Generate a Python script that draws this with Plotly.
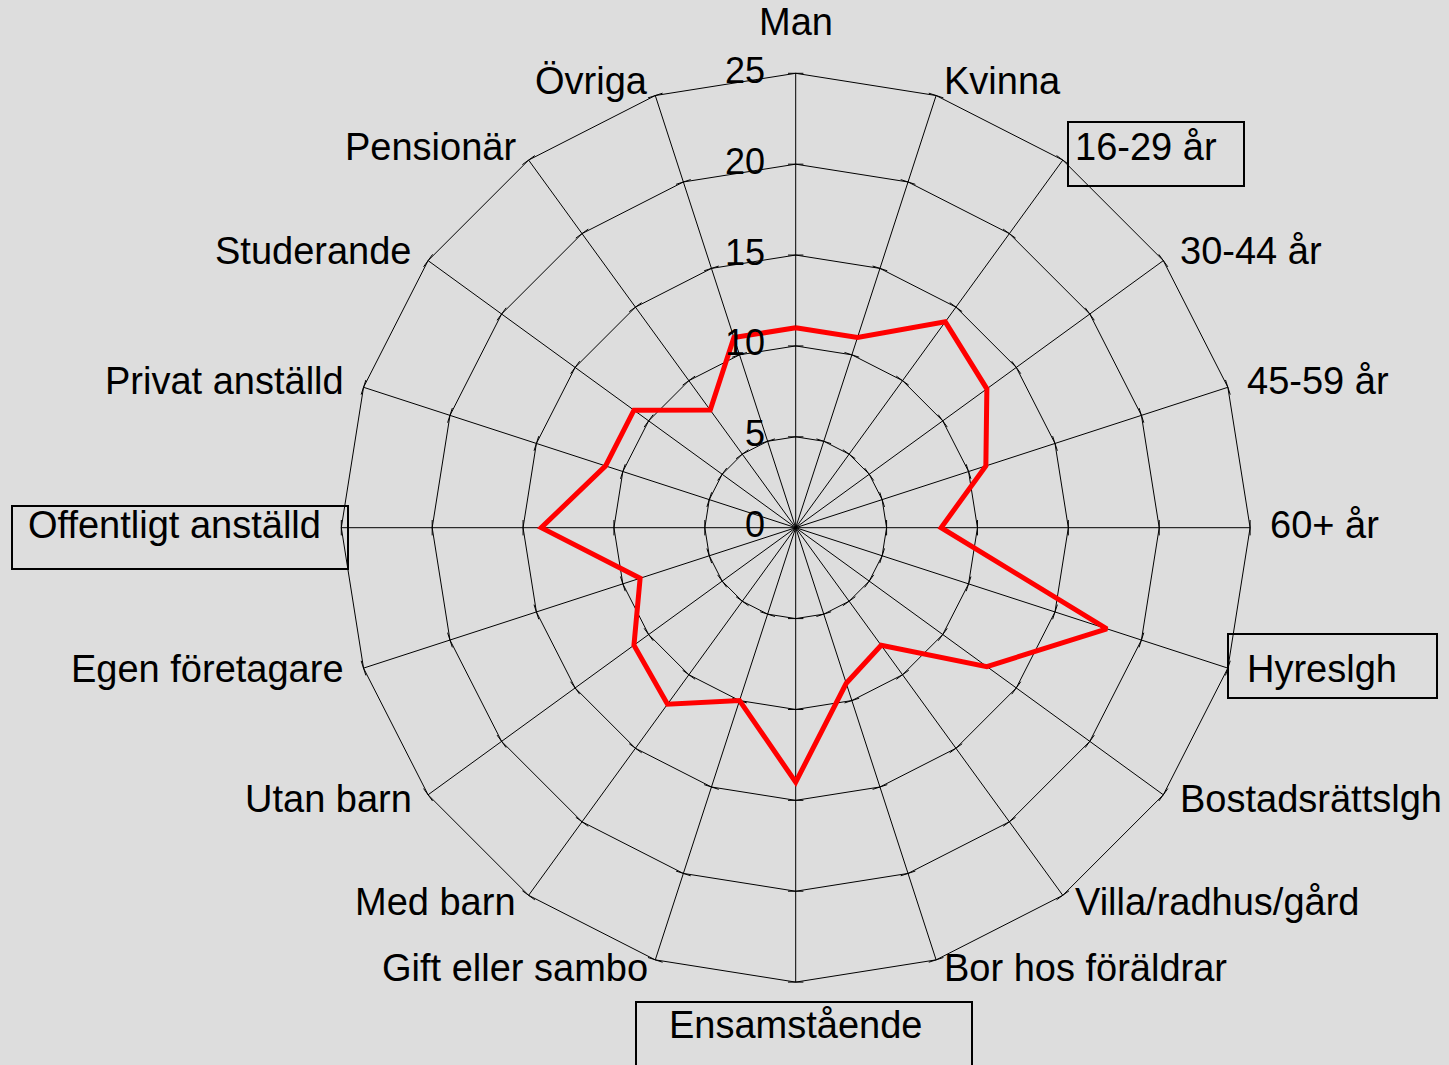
import math
import plotly.graph_objects as go

categories = ["Man", "Kvinna", "16-29 år", "30-44 år", "45-59 år", "60+ år",
              "Hyreslgh", "Bostadsrättslgh", "Villa/radhus/gård", "Bor hos föräldrar",
              "Ensamstående", "Gift eller sambo", "Med barn", "Utan barn",
              "Egen företagare", "Offentligt anställd", "Privat anställd",
              "Studerande", "Pensionär", "Övriga"]
values = [11, 11, 14, 13, 11, 8, 18, 13, 8, 9, 14, 10, 12, 11, 9, 14, 11, 11, 8, 11]
radial_ticks = [0, 5, 10, 15, 20, 25]
radial_max = 25
boxed = ["16-29 år", "Hyreslgh", "Ensamstående", "Offentligt anställd"]

W, H = 1449, 1065
FONT = "Liberation Sans, Arial, sans-serif"
LABEL_SIZE = 38
TICK_SIZE = 36

# polar placement (pixels)
cx, cy, R = 795.7, 527.7, 454.4

def px(x, y):
    return x / W, 1 - y / H

fig = go.Figure()

# small tick marks on each spoke at each grid value
n = len(categories)
tick_theta, tick_r, tick_ang = [], [], []
for i, c in enumerate(categories):
    for v in radial_ticks[1:]:
        tick_theta.append(c)
        tick_r.append(v)
        tick_ang.append(i * 360 / n)
fig.add_trace(go.Scatterpolar(
    r=tick_r, theta=tick_theta, mode="markers",
    marker=dict(symbol="line-ew", size=11, angle=tick_ang,
                line=dict(color="black", width=1)),
    hoverinfo="skip", showlegend=False))

fig.add_trace(go.Scatterpolar(
    r=values + values[:1], theta=categories + categories[:1],
    mode="lines", line=dict(color="#ff0000", width=5),
    showlegend=False))

# category labels placed just outside the outer polygon vertices
for i, c in enumerate(categories):
    th = math.radians(i * 360 / n)
    s, co = math.sin(th), math.cos(th)
    vx, vy = cx + R * s, cy - R * co
    if abs(s) < 1e-6:
        xa = "center"
        lx = vx
        ly = vy - 51 if co > 0 else vy + 43
    else:
        xa = "left" if s > 0 else "right"
        lx = vx + 18 * s
        ly = vy - 12 * co - 3
    ax_, ay_ = px(lx, ly)
    fig.add_annotation(x=ax_, y=ay_, xref="paper", yref="paper", text=c,
                       showarrow=False, xanchor=xa, yanchor="middle",
                       font=dict(size=LABEL_SIZE, color="black", family=FONT))

# radial value labels, to the left of the vertical spoke
for v in radial_ticks:
    lx, ly = px(cx - 29, cy - v * R / radial_max - 3)
    fig.add_annotation(x=lx, y=ly, xref="paper", yref="paper", text=str(v),
                       showarrow=False, xanchor="right", yanchor="middle",
                       font=dict(size=TICK_SIZE, color="black", family=FONT))

x0, _ = px(cx - R, 0)
x1, _ = px(cx + R, 0)
_, y0 = px(0, cy + R)
_, y1 = px(0, cy - R)

fig.update_layout(
    width=W, height=H,
    margin=dict(l=0, r=0, t=0, b=0),
    paper_bgcolor="#dddddd",
    font=dict(family=FONT, size=36, color="black"),
    showlegend=False,
    polar=dict(
        domain=dict(x=[x0, x1], y=[y0, y1]),
        bgcolor="#dddddd",
        gridshape="linear",
        angularaxis=dict(
            rotation=90, direction="clockwise",
            categoryorder="array", categoryarray=categories,
            showline=True, linecolor="black", linewidth=1,
            gridcolor="black", gridwidth=1,
            ticks="", showticklabels=False,
        ),
        radialaxis=dict(
            range=[0, radial_max], tickvals=radial_ticks,
            angle=90, showticklabels=False,
            showline=False, ticks="",
            gridcolor="black", gridwidth=1,
        ),
    ),
)

# boxes around highlighted labels
box_px = {
    "16-29 år": (1068, 122, 1244, 186),
    "Hyreslgh": (1228, 634, 1437, 698),
    "Ensamstående": (636, 1002, 972, 1075),
    "Offentligt anställd": (12, 506, 348, 569),
}
for name in boxed:
    a, b, c, d = box_px[name]
    xa, ya = px(a, b)
    xb, yb = px(c, d)
    fig.add_shape(type="rect", xref="paper", yref="paper",
                  x0=xa, y0=ya, x1=xb, y1=yb,
                  line=dict(color="black", width=2), fillcolor="rgba(0,0,0,0)")

fig.write_html("out.html", config={"displayModeBar": False},
               post_script="document.body.style.margin='0';"
                           "document.body.style.overflow='hidden';")
